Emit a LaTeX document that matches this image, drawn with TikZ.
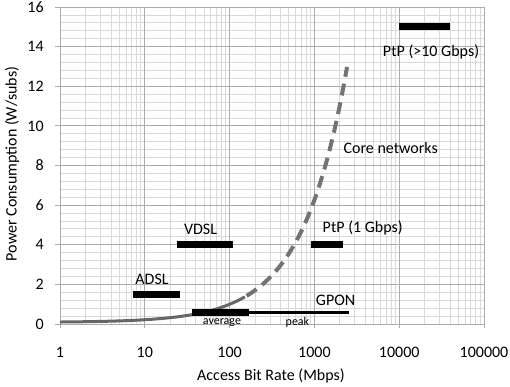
\documentclass[tikz,border=0pt]{standalone}
\usepackage{fontspec}
\setmainfont{Carlito}

\begin{document}
\begin{tikzpicture}[x=1pt, y=1pt,
  minorgrid/.style={draw=gray!30, line width=0.9pt},
  majorgrid/.style={draw=gray!65, line width=0.9pt},
  bar/.style={line width=7pt},
  thinbar/.style={line width=3.5pt},
  curvesolid/.style={draw=black!60, line width=3pt},
  curvedash/.style={draw=black!55, line width=4pt, dash pattern=on 12pt off 7pt},
  ticklabel/.style={font=\fontsize{16}{19}\selectfont, inner sep=0pt},
  lbl/.style={font=\fontsize{16}{19}\selectfont, inner sep=0pt},
  smalllbl/.style={font=\fontsize{12}{14}\selectfont, inner sep=0pt}]
  \useasboundingbox (0,0) rectangle (510,387);

  \begin{scope}[shift={(60,63)}, x=84.8pt, y=19.81pt]
    % grid
    \foreach \d in {0,...,4} {
      \foreach \k in {2,...,9} {
        \draw[minorgrid] ({\d+log10(\k)},0) -- ({\d+log10(\k)},16);
      }
    }
    \foreach \i in {1,...,39} {
      \draw[minorgrid] (0,\i*0.4) -- (5,\i*0.4);
    }
    \foreach \d in {0,...,5} {
      \draw[majorgrid] (\d,-0.18) -- (\d,16);
    }
    \foreach \p in {0,2,...,16} {
      \draw[majorgrid] (-0.06,\p) -- (5,\p);
    }

    % tick labels
    \foreach \p in {0,2,...,16} {
      \node[ticklabel, anchor=east] (y\p) at (-0.19,\p) {\p};
    }
    \foreach \d/\t in {0/1, 1/10, 2/100, 3/1000, 4/10000, 5/100000} {
      \node[ticklabel] (x\d) at (\d,-1.41) {\t};
    }

    % power curve
    \draw[curvesolid] plot[domain=0:2.18, samples=60] (\x, {0.08+0.02*pow(10,0.83*\x)});
    \draw[curvedash] plot[domain=2.2:3.385, samples=60] (\x, {0.08+0.02*pow(10,0.83*\x)});

    % technologies
    \draw[bar] (0.86,1.5) -- (1.42,1.5);
    \draw[bar] (1.38,4) -- (2.04,4);
    \draw[bar] (2.96,4) -- (3.34,4);
    \draw[bar] (4.0,15) -- (4.6,15);
    \draw[bar] (1.56,0.57) -- (2.23,0.57);
    \draw[thinbar] (2.2,0.57) -- (3.41,0.57);

    \node[lbl] (adsl) at (1.085,2.27) {ADSL};
    \node[lbl] (vdsl) at (1.657,4.8) {VDSL};
    \node[lbl] (gpon) at (3.25,1.21) {GPON};
    \node[smalllbl] (avg) at (1.91,0.05) {average};
    \node[smalllbl] (peak) at (2.80,0.1) {peak};
    \node[lbl] (ptp1) at (3.57,4.85) {PtP (1 Gbps)};
    \node[lbl] (ptp10) at (4.375,13.73) {PtP (>10 Gbps)};
    \node[lbl] (core) at (3.90,8.88) {Core networks};
  \end{scope}

  % axis titles
  \node[lbl, rotate=90] (ytitle) at (12,223) {Power Consumption (W/subs)};
  \node[lbl] (xtitle) at (271,11) {Access Bit Rate (Mbps)};
\end{tikzpicture}
\end{document}
